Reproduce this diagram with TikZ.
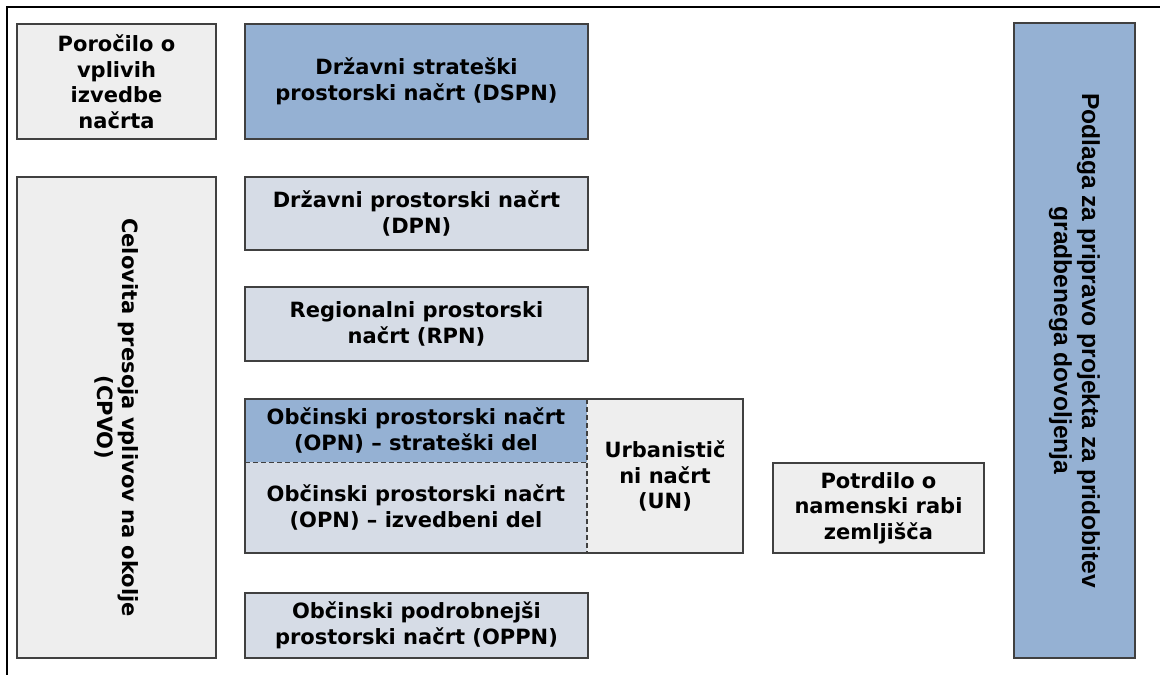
\documentclass[tikz,border=0pt]{standalone}
\usepackage{fontspec}
\setmainfont{DejaVu Sans}
\newfontfamily\arialfont{Liberation Sans}
\definecolor{planblue}{HTML}{95B1D3}
\definecolor{planlight}{HTML}{D6DCE6}
\definecolor{plangrey}{HTML}{EEEEEE}
\definecolor{planline}{HTML}{404040}
\begin{document}
\begin{tikzpicture}[x=1pt,y=-1pt,
  box/.style={draw=planline, line width=1.5pt, rectangle, inner sep=0pt,
    align=center, font=\fontsize{21}{25.5}\selectfont\bfseries, text=black},
  part/.style={rectangle, inner sep=0pt, align=center,
    font=\fontsize{21}{25.5}\selectfont\bfseries, text=black},
  dashline/.style={draw=planline, line width=1.4pt, dash pattern=on 5pt off 3pt}]
\useasboundingbox (0,0) rectangle (1160,675);
\fill[white] (0,0) rectangle (1160,675);
% frame
\coordinate (ftl) at (7,7);
\coordinate (ftr) at (1160,7);
\coordinate (fbl) at (7,675);
\draw[line width=2pt, black] (ftr) -- (ftl) -- (fbl);
% left column
\node[box, fill=plangrey, minimum width=199pt, minimum height=115pt] (por) at (116.5,81.5)
  {Poročilo o\\vplivih\\izvedbe\\načrta};
\node[box, fill=plangrey, rotate=-90, minimum width=481pt, minimum height=199pt] (cpvo) at (116.5,417.5)
  {Celovita presoja vplivov na okolje\\(CPVO)};
% middle column
\node[box, fill=planblue, minimum width=343pt, minimum height=115pt] (dspn) at (416.5,81.5)
  {Državni strateški\\prostorski načrt (DSPN)};
\node[box, fill=planlight, minimum width=343pt, minimum height=73pt] (dpn) at (416.5,213.5)
  {Državni prostorski načrt\\(DPN)};
\node[box, fill=planlight, minimum width=343pt, minimum height=74pt] (rpn) at (416.5,324)
  {Regionalni prostorski\\načrt (RPN)};
% OPN group
\node[part, fill=planblue, minimum width=342pt, minimum height=63pt] (opns) at (416,430.5)
  {Občinski prostorski načrt\\(OPN) – strateški del};
\node[part, fill=planlight, minimum width=342pt, minimum height=91pt] (opni) at (416,507.5)
  {Občinski prostorski načrt\\(OPN) – izvedbeni del};
\node[part, fill=plangrey, minimum width=156pt, minimum height=154pt] (un) at (665,476)
  {Urbanistič\\ni načrt\\(UN)};
\draw[dashline] (opns.south west) -- (opns.south east);
\draw[dashline] (un.north west) -- (un.south west);
\draw[draw=planline, line width=1.5pt] (opns.north west) rectangle (un.south east);
\node[box, fill=planlight, minimum width=343pt, minimum height=65pt] (oppn) at (416.5,625.5)
  {Občinski podrobnejši\\prostorski načrt (OPPN)};
% right
\node[box, fill=plangrey, minimum width=211pt, minimum height=90pt] (potr) at (878.5,508)
  {Potrdilo o\\namenski rabi\\zemljišča};
\node[box, fill=planblue, rotate=-90, minimum width=635pt, minimum height=121pt,
  font=\arialfont\fontsize{24.6}{28}\selectfont\bfseries] (podl) at (1074.5,340.5)
  {Podlaga za pripravo projekta za pridobitev\\gradbenega dovoljenja};
\end{tikzpicture}
\end{document}
